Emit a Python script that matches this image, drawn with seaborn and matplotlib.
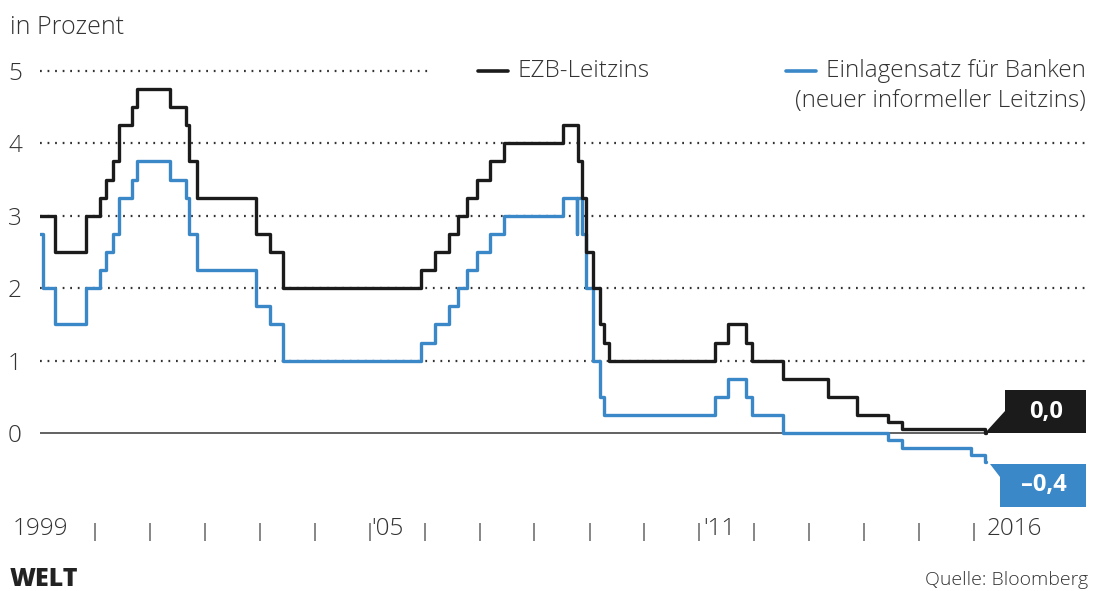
import pandas as pd
import matplotlib.pyplot as plt
import matplotlib.transforms as mtransforms
import matplotlib.dates as mdates
from matplotlib.patches import Polygon
from matplotlib.lines import Line2D
import seaborn as sns

# EZB-Leitzins (Hauptrefinanzierungssatz), Stufen
ezb_dates = ["1999-01-01", "1999-04-09", "1999-11-05", "2000-02-04", "2000-03-17",
             "2000-04-28", "2000-06-09", "2000-09-06", "2000-10-06", "2001-05-11",
             "2001-08-31", "2001-09-18", "2001-11-09", "2002-12-06", "2003-03-07",
             "2003-06-06", "2005-12-06", "2006-03-08", "2006-06-15", "2006-08-09",
             "2006-10-11", "2006-12-13", "2007-03-14", "2007-06-13", "2008-07-09",
             "2008-10-15", "2008-11-12", "2008-12-10", "2009-01-21", "2009-03-11",
             "2009-04-08", "2009-05-13", "2011-04-13", "2011-07-13", "2011-11-09",
             "2011-12-14", "2012-07-11", "2013-05-08", "2013-11-13", "2014-06-11",
             "2014-09-10", "2016-03-16", "2016-03-20"]
ezb_rate = [3.0, 2.5, 3.0, 3.25, 3.5,
            3.75, 4.25, 4.5, 4.75, 4.5,
            4.25, 3.75, 3.25, 2.75, 2.5,
            2.0, 2.25, 2.5, 2.75, 3.0,
            3.25, 3.5, 3.75, 4.0, 4.25,
            3.75, 3.25, 2.5, 2.0, 1.5,
            1.25, 1.0, 1.25, 1.5, 1.25,
            1.0, 0.75, 0.5, 0.25, 0.15,
            0.05, 0.0, 0.0]

# Einlagensatz fuer Banken
dep_dates = ["1999-01-01", "1999-01-22", "1999-04-09", "1999-11-05", "2000-02-04",
             "2000-03-17", "2000-04-28", "2000-06-09", "2000-09-01", "2000-10-06",
             "2001-05-11", "2001-08-31", "2001-09-18", "2001-11-09", "2002-12-06",
             "2003-03-07", "2003-06-06", "2005-12-06", "2006-03-08", "2006-06-15",
             "2006-08-09", "2006-10-11", "2006-12-13", "2007-03-14", "2007-06-13",
             "2008-07-09", "2008-10-08", "2008-10-09", "2008-11-12", "2008-12-10",
             "2009-01-21", "2009-03-11", "2009-04-08", "2011-04-13", "2011-07-13",
             "2011-11-09", "2011-12-14", "2012-07-11", "2014-06-11", "2014-09-10",
             "2015-12-09", "2016-03-16", "2016-03-20"]
dep_rate = [2.75, 2.0, 1.5, 2.0, 2.25,
            2.5, 2.75, 3.25, 3.5, 3.75,
            3.5, 3.25, 2.75, 2.25, 1.75,
            1.5, 1.0, 1.25, 1.5, 1.75,
            2.0, 2.25, 2.5, 2.75, 3.0,
            3.25, 2.75, 3.25, 2.75, 2.0,
            1.0, 0.5, 0.25, 0.5, 0.75,
            0.5, 0.25, 0.0, -0.1, -0.2,
            -0.3, -0.4, -0.4]

y_ticks = [0, 1, 2, 3, 4, 5]
year_labels = ["1999", "'05", "'11", "2016"]
year_label_pos = ["1998-07-01", "2005-01-12", "2011-01-30", "2016-03-25"]
tick_years = list(range(2000, 2017))

BLACK = "#1b1b1b"
BLUE = "#3b88c9"
TXT = "#333333"
FS = 17.5

sns.set_style("white")
plt.rcParams["font.family"] = ["Open Sans", "DejaVu Sans"]
plt.rcParams["font.weight"] = "light"

ezb = pd.DataFrame({"datum": pd.to_datetime(ezb_dates), "zins": ezb_rate})
dep = pd.DataFrame({"datum": pd.to_datetime(dep_dates), "zins": dep_rate})

fig = plt.figure(figsize=(10.93, 5.91), dpi=100)
ax = fig.add_axes([40 / 1093, 1 - 541 / 591, 1050 / 1093, 481 / 591])

# grid lines
for v in y_ticks[1:]:
    xmax = 0.37 if v == 5 else 1.0
    ax.axhline(v, xmin=0, xmax=xmax, color="#333333", lw=1.6,
               ls=(0, (0.8, 2.6)), zorder=1)
ax.hlines(0, ezb["datum"].iloc[0], ezb["datum"].iloc[-1], color="#555555", lw=1.3, zorder=1)

sns.lineplot(data=dep, x="datum", y="zins", drawstyle="steps-post", color=BLUE,
             lw=2.4, ax=ax, zorder=3)
sns.lineplot(data=ezb, x="datum", y="zins", drawstyle="steps-post", color=BLACK,
             lw=2.4, ax=ax, zorder=4)

ax.set_xlim(pd.Timestamp("1999-01-01"), pd.Timestamp("2018-02-10"))
ax.set_ylim(-1.49, 5.15)
ax.set_xlabel("")
ax.set_ylabel("")
for s in ax.spines.values():
    s.set_visible(False)

ax.set_yticks(y_ticks)
ax.set_yticklabels([str(v) for v in y_ticks], fontsize=FS, color=TXT)
ax.tick_params(axis="y", length=0, pad=13)
ax.set_xticks(pd.to_datetime([f"{y}-01-01" for y in tick_years]))
ax.tick_params(axis="x", direction="in", length=13, width=1.1, color="#666666",
               labelbottom=False, bottom=True)

for lab, pos in zip(year_labels, year_label_pos):
    ax.text(pd.Timestamp(pos), 0.024, lab, transform=ax.get_xaxis_transform(),
            ha="left", va="center", fontsize=FS, color=TXT, clip_on=False)

# end-value callouts
px = 72 / fig.dpi


def callout(df, color, verts, text_off):
    x_end = mdates.date2num(df["datum"].iloc[-1])
    y_end = df["zins"].iloc[-1]
    tr = mtransforms.Affine2D().scale(fig.dpi / 72) + \
        mtransforms.ScaledTranslation(x_end, y_end, ax.transData)
    pts = [(vx * px, vy * px) for vx, vy in verts]
    ax.add_patch(Polygon(pts, closed=True, transform=tr, facecolor=color,
                         edgecolor="none", clip_on=False, zorder=5))
    lab = f"{y_end:.1f}".replace(".", ",").replace("-", "\u2013")
    ax.annotate(lab, xy=(df["datum"].iloc[-1], y_end), xytext=(text_off[0] * px, text_off[1] * px),
                textcoords="offset points", ha="center", va="center", color="white",
                fontsize=17, fontweight="bold", zorder=6, annotation_clip=False)


callout(ezb, BLACK, [(-1, 0), (100, 0), (100, 43), (19, 43), (19, 22)], (60, 21))
callout(dep, BLUE, [(4, -2), (100, -2), (100, -45), (14, -45), (14, -15)], (58, -23))

# legend
W, H = 1093, 591
fig.add_artist(Line2D([478 / W, 508 / W], [1 - 71 / H] * 2, color=BLACK, lw=2.6))
fig.text(517 / W, 1 - 71 / H, "EZB-Leitzins", fontsize=FS, color=TXT, va="center")
t_dep = fig.text(1086 / W, 1 - 71 / H, "Einlagensatz für Banken", fontsize=FS, color=TXT,
                 va="center", ha="right")
fig.text(1086 / W, 1 - 101 / H, "(neuer informeller Leitzins)", fontsize=FS, color=TXT,
         va="center", ha="right")
fig.canvas.draw()
x0 = t_dep.get_window_extent().x0
fig.add_artist(Line2D([(x0 - 40) / W, (x0 - 10) / W], [1 - 71 / H] * 2, color=BLUE, lw=2.6))

fig.text(10 / W, 1 - 27 / H, "in Prozent", fontsize=FS + 0.5, color=TXT, va="center")
fig.text(10 / W, 1 - 579 / H, "WELT", fontsize=18, color="#222222", va="center",
         fontweight="heavy")
fig.text(1088 / W, 1 - 580 / H, "Quelle: Bloomberg", fontsize=14, color=TXT,
         va="center", ha="right")

fig.savefig("out.png", dpi=100, facecolor="white")
